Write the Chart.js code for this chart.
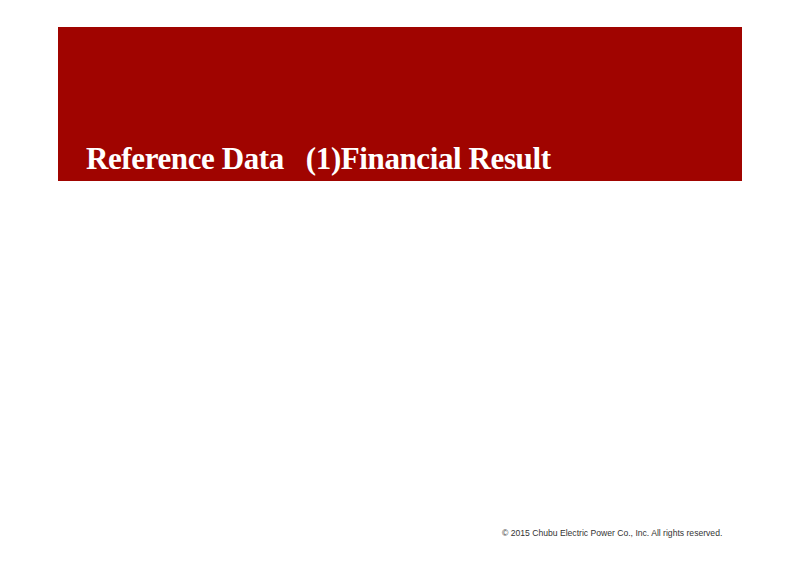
<!DOCTYPE html>
<html>
<head>
<meta charset="utf-8">
<script src="https://cdn.jsdelivr.net/npm/chart.js@4/dist/chart.umd.min.js"></script>
<style>
  html, body { margin: 0; padding: 0; background: #fff; }
  #page { position: relative; width: 800px; height: 566px; overflow: hidden; }
  #banner {
    position: absolute; left: 58px; top: 27px; width: 684px; height: 154px;
    background: #a00400;
  }
  #title {
    position: absolute; left: 86px; top: 141px;
    font-family: "Liberation Serif", "Times New Roman", serif;
    font-weight: bold; font-size: 31px; color: #fff; white-space: pre;
    letter-spacing: -0.4px;
  }
  #chartBox { position: absolute; left: 58px; top: 195px; width: 684px; height: 310px; }
  #footer {
    position: absolute; left: 502px; top: 528px;
    font-family: "Liberation Sans", Arial, sans-serif; font-size: 8.6px; color: #333;
    white-space: nowrap;
  }
</style>
</head>
<body>
<div id="page">
  <div id="banner"></div>
  <div id="title">Reference Data   (1)Financial Result</div>
  <div id="chartBox"><canvas id="myChart"></canvas></div>
  <div id="footer">© 2015 Chubu Electric Power Co., Inc. All rights reserved.</div>
</div>
<script>
// the slide shows no plotted values, so the chart is empty
var gLabels = [];
var gValues = [];

var gConfig = {
    type: 'bar',
    data: {
        labels: gLabels,
        datasets: [{ data: gValues, backgroundColor: '#a00400' }]
    },
    options: {
        responsive: true,
        maintainAspectRatio: false,
        animation: false,
        plugins: { legend: { display: false }, tooltip: { enabled: false } },
        scales: {
            x: { display: false },
            y: { display: false }
        }
    }
};

const ctx = document.getElementById('myChart');
var gChart = new Chart(ctx, gConfig);
</script>
</body>
</html>
